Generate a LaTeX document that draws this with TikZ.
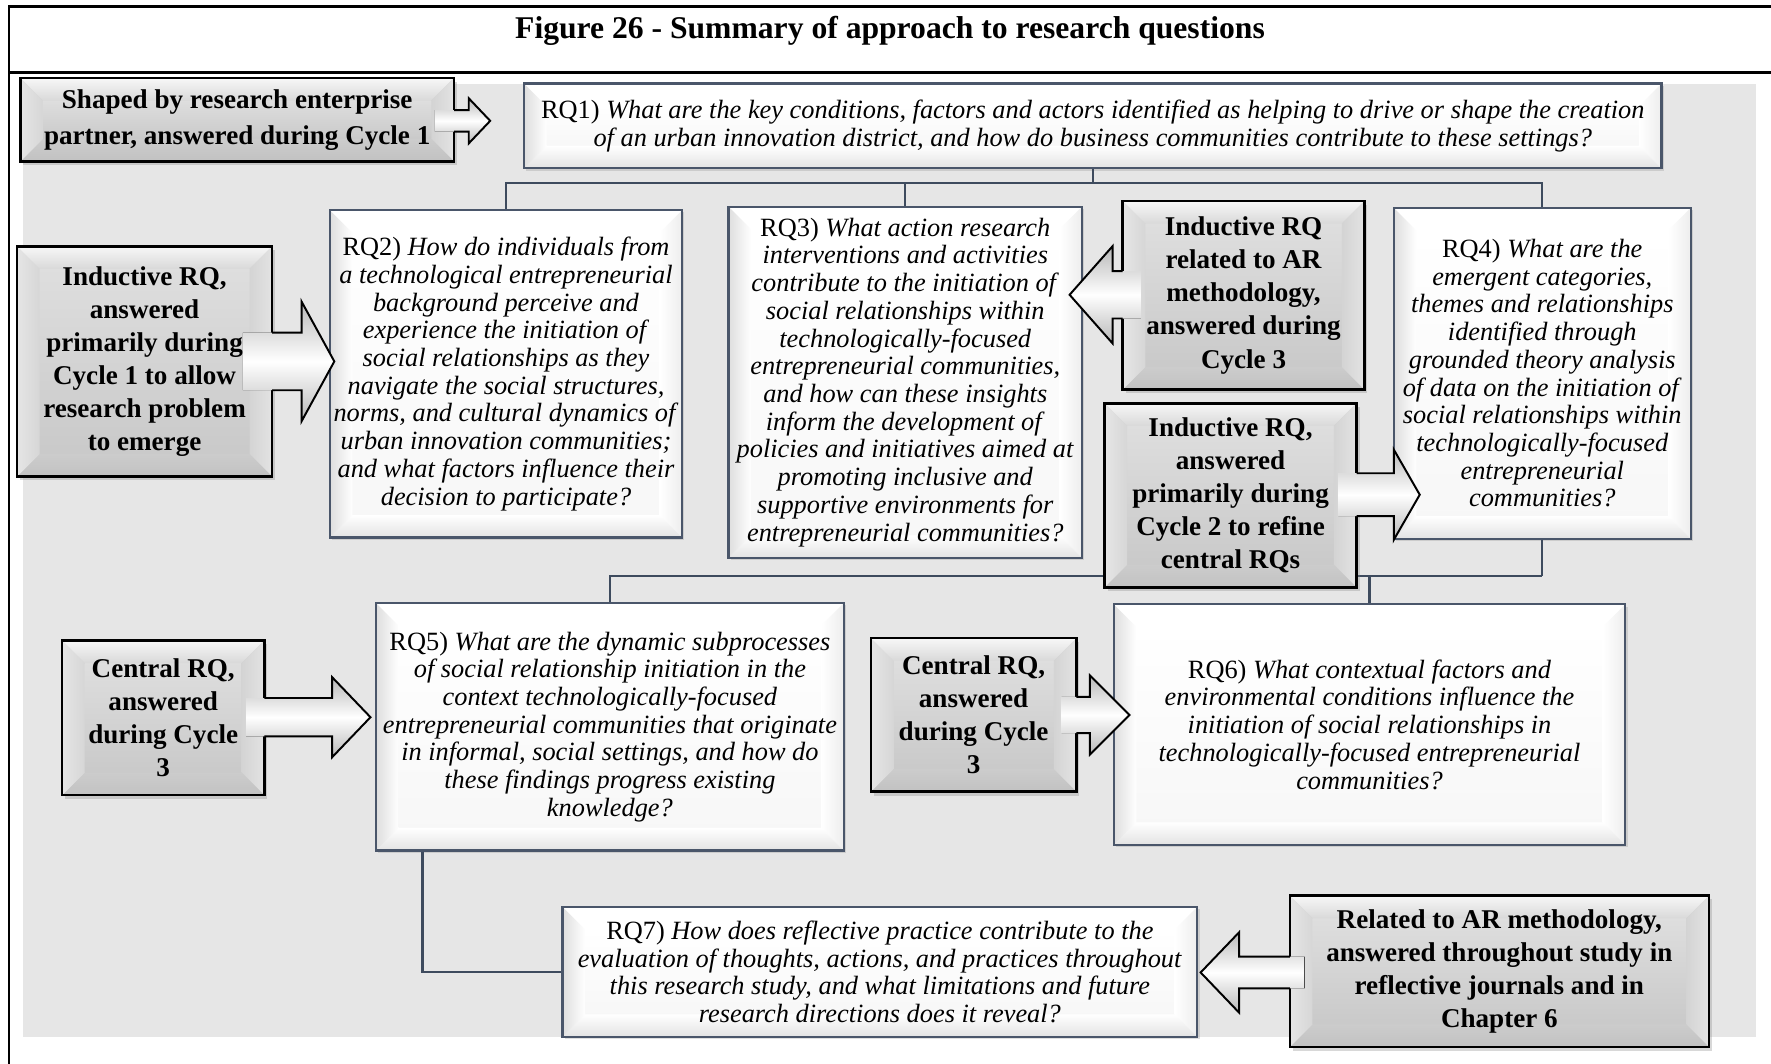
\documentclass[tikz,border=0pt]{standalone}
\usepackage{fontspec}
\setmainfont{Liberation Serif}
\usetikzlibrary{shadows,calc}
\definecolor{panel}{HTML}{E6E6E6}
\definecolor{rqborder}{HTML}{4A566A}
\definecolor{conncol}{HTML}{3E4B5E}
\newcommand\rqfont{\fontsize{17.5}{18.4}\selectfont}
\newcommand\lblfont{\fontsize{18}{22}\selectfont\bfseries}
% bevel drawn inside a node: #1 width, #2 top, #3 right, #4 bottom, #5 left, #6 body
\newcommand\bevelpic[6]{%
 \path (path picture bounding box.north west) coordinate (bA)
       (path picture bounding box.north east) coordinate (bB)
       (path picture bounding box.south east) coordinate (bC)
       (path picture bounding box.south west) coordinate (bD);
 \path[#6] ([shift={(#1,#1)}]bA) rectangle ([shift={(-#1,-#1)}]bC);
 \path[#2] (bA) -- (bB) -- ([shift={(-#1,#1)}]bB) -- ([shift={(#1,#1)}]bA) -- cycle;
 \path[#3] (bB) -- (bC) -- ([shift={(-#1,-#1)}]bC) -- ([shift={(-#1,#1)}]bB) -- cycle;
 \path[#4] (bC) -- (bD) -- ([shift={(#1,-#1)}]bD) -- ([shift={(-#1,-#1)}]bC) -- cycle;
 \path[#5] (bD) -- (bA) -- ([shift={(#1,#1)}]bA) -- ([shift={(#1,-#1)}]bD) -- cycle;
}
\tikzset{
 rqbox/.style={draw=rqborder, line width=1.5pt, fill=white, inner sep=0pt, align=center, font=\rqfont,
   drop shadow={shadow xshift=1.5pt, shadow yshift=-1.5pt, opacity=0.25},
   path picture={\bevelpic{20}{fill=white}{left color=white,right color=black!7}{top color=white,bottom color=black!11}{left color=black!13,right color=white}{top color=white,bottom color=black!3}}},
 lblbox/.style={draw=black, line width=1.7pt, fill=black!18, inner sep=0pt, align=center, font=\lblfont,
   drop shadow={shadow xshift=2pt, shadow yshift=-2.5pt, opacity=0.3},
   path picture={\bevelpic{20}{top color=black!3,bottom color=black!15}{left color=black!17,right color=black!11}{top color=black!20,bottom color=black!24}{left color=black!10,right color=black!16}{top color=black!13,bottom color=black!21}}},
 conn/.style={draw=conncol, line width=1.5pt},
 arrowfill/.style={top color=black!28, bottom color=black!28, middle color=white},
 arrowline/.style={draw=black, line width=1.3pt, line join=miter},
 frameline/.style={draw=black, line width=1.7pt},
}
% box: name, x1, y1, x2, y2, style, text
\newcommand\mkbox[7]{\node[#6, minimum width={(#4-#2)*0.75pt}, minimum height={(#5-#3)*0.75pt}] (#1) at ({(#2+#4)/2},{(#3+#5)/2+2}) {#7};}
% block arrow: fill start, outline start, head base, tip, cy, shaft half, head half
\newcommand\blockarrow[7]{%
 \fill[arrowfill] (#1,#5-#6) -- (#3,#5-#6) -- (#3,#5-#7) -- (#4,#5) -- (#3,#5+#7) -- (#3,#5+#6) -- (#1,#5+#6) -- cycle;
 \draw[arrowline] (#2,#5-#6) -- (#3,#5-#6) -- (#3,#5-#7) -- (#4,#5) -- (#3,#5+#7) -- (#3,#5+#6) -- (#2,#5+#6);
}
\begin{document}
\begin{tikzpicture}[x=0.75pt,y=-0.75pt]
\useasboundingbox (0,0) rectangle (1568,942);
\fill[white] (0,0) rectangle (1568,942);
% frame and title
\draw[frameline] (8,942) -- (8,6) -- (1568,6);
\draw[frameline] (8,64) -- (1568,64);
\node[font=\fontsize{21}{24}\selectfont\bfseries] (title) at (788,27) {Figure 26 - Summary of approach to research questions};
% panel
\fill[panel] (20,74) rectangle (1555,918);

% RQ boxes
\mkbox{rq1}{464}{72}{1471}{147}{rqbox}{RQ1) \textit{What are the key conditions, factors and actors identified as helping to drive or shape the creation}\\ \textit{of an urban innovation district, and how do business communities contribute to these settings?}}
\mkbox{rq2}{292}{184}{604}{474}{rqbox}{RQ2) \textit{How do individuals from}\\ \textit{a technological entrepreneurial}\\ \textit{background perceive and}\\ \textit{experience the initiation of}\\ \textit{social relationships as they}\\ \textit{navigate the social structures,}\\ \textit{norms, and cultural dynamics of}\\ \textit{urban innovation communities;}\\ \textit{and what factors influence their}\\ \textit{decision to participate?}}
\mkbox{rq3}{645}{181}{958}{492}{rqbox}{RQ3) \textit{What action research}\\ \textit{interventions and activities}\\ \textit{contribute to the initiation of}\\ \textit{social relationships within}\\ \textit{technologically-focused}\\ \textit{entrepreneurial communities,}\\ \textit{and how can these insights}\\ \textit{inform the development of}\\ \textit{policies and initiatives aimed at}\\ \textit{promoting inclusive and}\\ \textit{supportive environments for}\\ \textit{entrepreneurial communities?}}
\mkbox{rq4}{1234}{182}{1497}{475}{rqbox}{RQ4) \textit{What are the}\\ \textit{emergent categories,}\\ \textit{themes and relationships}\\ \textit{identified through}\\ \textit{grounded theory analysis}\\ \textit{of data on the initiation of}\\ \textit{social relationships within}\\ \textit{technologically-focused}\\ \textit{entrepreneurial}\\ \textit{communities?}}
\mkbox{rq5}{333}{532}{747}{751}{rqbox}{RQ5) \textit{What are the dynamic subprocesses}\\ \textit{of social relationship initiation in the}\\ \textit{context technologically-focused}\\ \textit{entrepreneurial communities that originate}\\ \textit{in informal, social settings, and how do}\\ \textit{these findings progress existing}\\ \textit{knowledge?}}
\mkbox{rq6}{986}{533}{1439}{746}{rqbox}{RQ6) \textit{What contextual factors and}\\ \textit{environmental conditions influence the}\\ \textit{initiation of social relationships in}\\ \textit{technologically-focused entrepreneurial}\\ \textit{communities?}}
\mkbox{rq7}{498}{801}{1060}{916}{rqbox}{RQ7) \textit{How does reflective practice contribute to the}\\ \textit{evaluation of thoughts, actions, and practices throughout}\\ \textit{this research study, and what limitations and future}\\ \textit{research directions does it reveal?}}

% connectors (behind label boxes)
\draw[conn] (rq1.south) -- ++(0,12) coordinate (j1);
\draw[conn] (rq2.north) |- (j1) -| (rq4.north);
\draw[conn] (rq3.north) -- (rq3.north |- j1);
\draw[conn] (rq4.south) -- ++(0,32) coordinate (j2);
\draw[conn] (rq5.north) |- (j2);
\draw[conn] (rq6.north) -- (rq6.north |- j2);
\draw[conn] ($(rq5.south west)+(42,0)$) coordinate (j3) |- (rq7.west);

% label boxes
\mkbox{shaped}{18}{67}{402}{141}{lblbox,font=\fontsize{18}{24}\selectfont\bfseries}{Shaped by research enterprise\\ partner, answered during Cycle 1}
\mkbox{ind1}{15}{216}{241}{420}{lblbox}{Inductive RQ,\\ answered\\ primarily during\\ Cycle 1 to allow\\ research problem\\ to emerge}
\mkbox{indar}{994}{176}{1208}{343}{lblbox}{Inductive RQ\\ related to AR\\ methodology,\\ answered during\\ Cycle 3}
\mkbox{ind2}{978}{355}{1201}{518}{lblbox}{Inductive RQ,\\ answered\\ primarily during\\ Cycle 2 to refine\\ central RQs}
\mkbox{cen1}{55}{565}{234}{702}{lblbox}{Central RQ,\\ answered\\ during Cycle\\ 3}
\mkbox{cen2}{771}{563}{953}{699}{lblbox}{Central RQ,\\ answered\\ during Cycle\\ 3}
\mkbox{rel}{1142}{791}{1513}{925}{lblbox}{Related to AR methodology,\\ answered throughout study in\\ reflective journals and in\\ Chapter 6}

% block arrows
\blockarrow{385}{402}{415}{434}{107}{9.5}{20}
\blockarrow{215}{241}{267}{296}{320}{25.5}{53}
\blockarrow{1010}{994}{985}{947}{261}{21}{43}
\blockarrow{1185}{1201}{1234}{1257}{438}{19}{40}
\blockarrow{218}{234}{294}{328}{635}{17}{35.5}
\blockarrow{940}{953}{965}{1000}{633}{16}{35}
\blockarrow{1155}{1142}{1097}{1063}{861}{14}{35.5}
\end{tikzpicture}
\end{document}
